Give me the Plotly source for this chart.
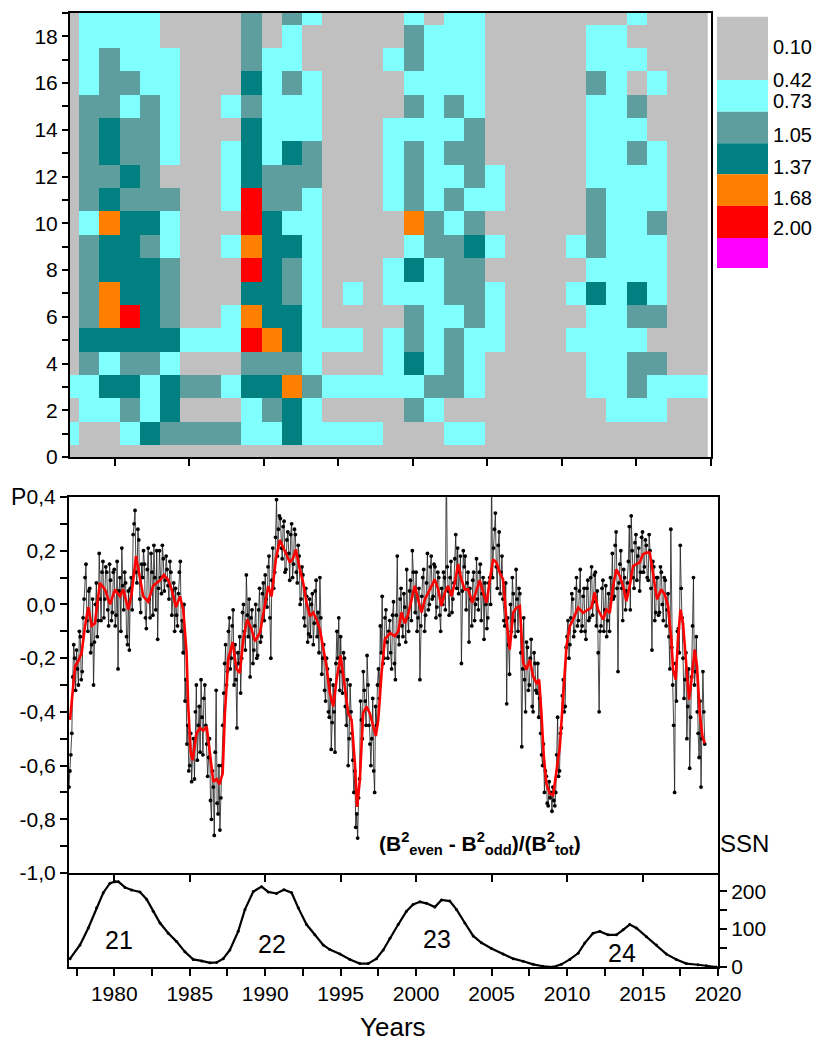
import plotly.graph_objects as go

# ---------------- data ----------------
# heatmap: colour class per cell (0 grey,1 cyan,2 cadet,3 teal,4 orange,5 red,6 magenta); rows from 19 (top) to 0
GRID_ROWS = [
    "01111000020210000101100000001000",  # 19
    "01111000020100000211100000110000",  # 18
    "01211100021100001211100000111000",  # 17
    "01221100031210000111100000210100",  # 16
    "02212100121110000212100000112000",  # 15
    "02322100031110001111200000111000",  # 14
    "02322100131320001212200000112100",  # 13
    "02232000132220001211210000111100",  # 12
    "02322200152210001212110000211100",  # 11
    "01433100053110000421200000211200",  # 10
    "02332100143310000122310001211100",  # 9
    "02333200053210001312200000111100",  # 8
    "02433200033210101112210001313100",  # 7
    "02453200143310000211210000112200",  # 6
    "03333311154311101212110001111000",  # 5
    "02122100022210001312100000112200",  # 4
    "11331322133421111122100000112111",  # 3
    "01121300012310000210000000011100",  # 2
    "10013222211311110001100000000000",  # 1
    "00000000000000000000000000000000",  # 0
]
ROW_LEVELS = list(range(19, -1, -1))
COL_FIRST_EDGE = 1977.604   # left edge of the first full column (years)
COL_WIDTH = 1.361           # years per column
LEVEL_EDGES = [0.10, 0.42, 0.73, 1.05, 1.37, 1.68, 2.00, 2.32]
LEVEL_VALUES = [0.26, 0.575, 0.89, 1.21, 1.525, 1.84, 2.16]
LEVEL_COLORS = ["#C0C0C0", "#80FFFF", "#5F9E9F", "#008080", "#FF8000", "#FF0000", "#FF00FF"]
LEGEND_LABELS = ["0.10", "0.42", "0.73", "1.05", "1.37", "1.68", "2.00"]

# P = (B2even - B2odd)/B2tot, raw series; samples A on a 1/8-year grid from 1977.0,
# samples B half-way between them (1977.0625, ...)
P_START = 1977.0
P_STEP = 0.125
P_RAW_A = [
    -0.68, -0.56, -0.27, -0.20, -0.17, -0.30, -0.12, -0.25,   # 1977
    0.02, 0.15, -0.10, 0.06, -0.15, -0.30, 0.00, -0.12,       # 1978
    0.19, -0.06, 0.16, 0.02, 0.12, -0.08, 0.09, -0.03,        # 1979
    0.13, -0.04, -0.24, 0.10, 0.21, -0.02, 0.08, -0.15,       # 1980
    -0.17, 0.10, 0.26, 0.35, 0.08, 0.24, -0.03, 0.10,         # 1981
    0.15, -0.09, 0.21, -0.05, 0.12, 0.22, -0.02, -0.13,       # 1982
    0.20, 0.04, 0.17, 0.09, 0.13, 0.02, 0.12, 0.05,           # 1983
    -0.10, -0.04, 0.04, 0.16, -0.06, 0.00, -0.28, -0.45,      # 1984
    -0.60, -0.66, -0.50, -0.40, -0.58, -0.38, -0.28, -0.56,   # 1985
    -0.30, -0.52, -0.57, -0.73, -0.62, -0.86, -0.32, -0.78,   # 1986
    -0.84, -0.60, -0.33, -0.15, -0.25, -0.05, -0.20, -0.02,   # 1987
    -0.15, -0.46, -0.22, -0.33, -0.03, -0.10, 0.11, -0.12,    # 1988
    -0.27, -0.02, -0.17, 0.00, -0.19, 0.06, -0.12, 0.08,      # 1989
    0.11, -0.01, 0.18, -0.20, 0.21, 0.12, 0.39, 0.28,         # 1990
    0.32, 0.17, 0.31, 0.13, 0.27, 0.09, 0.30, 0.15,           # 1991
    0.26, 0.08, 0.18, 0.02, 0.11, -0.08, 0.03, -0.11,         # 1992
    -0.12, 0.04, -0.07, 0.09, -0.03, 0.10, -0.26, -0.15,      # 1993
    -0.36, -0.24, -0.42, -0.54, -0.30, -0.55, -0.10, -0.05,   # 1994
    -0.12, -0.33, -0.20, -0.45, -0.60, -0.30, -0.48, -0.70,   # 1995
    -0.83, -0.87, -0.65, -0.43, -0.25, -0.36, -0.19, -0.45,   # 1996
    -0.60, -0.35, -0.70, -0.45, -0.24, -0.08, 0.03, -0.20,    # 1997
    -0.02, -0.20, -0.06, -0.24, 0.01, -0.28, 0.18, -0.15,     # 1998
    0.06, -0.12, -0.01, 0.13, -0.10, 0.09, 0.20, 0.05,        # 1999
    0.12, -0.05, -0.28, 0.03, 0.13, -0.04, 0.19, 0.00,        # 2000
    0.18, 0.03, 0.14, -0.01, 0.10, -0.10, 0.00, 0.10,         # 2001
    0.55, 0.05, 0.10, -0.03, 0.08, 0.26, 0.21, 0.12,          # 2002
    -0.22, 0.20, 0.18, 0.08, -0.14, 0.02, 0.09, -0.06,        # 2003
    0.17, -0.02, 0.15, 0.04, -0.13, 0.00, -0.05, 0.10,        # 2004
    0.48, 0.21, 0.34, 0.06, 0.27, 0.12, 0.02, -0.08,          # 2005
    -0.37, -0.15, 0.00, 0.10, -0.06, 0.13, -0.10, 0.04,       # 2006
    -0.53, -0.05, -0.40, -0.16, -0.30, -0.13, -0.40, -0.22,   # 2007
    -0.33, -0.42, -0.48, -0.60, -0.70, -0.64, -0.75, -0.72,   # 2008
    -0.77, -0.73, -0.70, -0.42, -0.62, -0.46, -0.28, -0.38,   # 2009
    -0.12, -0.20, -0.05, 0.02, -0.10, 0.10, -0.06, 0.13,      # 2010
    -0.08, 0.06, -0.13, 0.09, -0.05, 0.14, 0.01, 0.12,        # 2011
    0.05, -0.40, -0.08, 0.09, -0.02, -0.12, 0.04, 0.10,       # 2012
    0.19, 0.03, 0.27, -0.25, 0.15, 0.06, 0.13, -0.02,         # 2013
    0.08, 0.29, 0.33, 0.10, 0.23, 0.09, 0.21, 0.12,           # 2014
    0.27, 0.14, 0.22, 0.09, 0.20, -0.17, 0.14, -0.03,         # 2015
    0.10, -0.03, 0.12, -0.06, 0.09, -0.02, -0.12, 0.28,       # 2016
    -0.30, -0.70, -0.36, -0.09, 0.22, -0.05, -0.35, -0.18,    # 2017
    -0.38, -0.61, -0.27, 0.10, -0.25, -0.40, -0.57, -0.68,    # 2018
    -0.25, -0.52,                                             # 2019
]
P_RAW_B = [
    -0.62, -0.48, -0.15, -0.32, -0.24, -0.10, -0.28, -0.05,   # 1977
    0.10, -0.06, 0.05, -0.18, 0.02, -0.14, 0.08, -0.06,       # 1978
    0.02, 0.12, -0.05, 0.14, -0.02, 0.15, -0.06, 0.12,        # 1979
    -0.08, 0.16, 0.05, -0.10, 0.07, 0.12, -0.12, 0.05,        # 1980
    0.06, -0.02, 0.30, 0.12, 0.28, 0.02, 0.15, 0.20,          # 1981
    -0.05, 0.13, 0.02, 0.19, -0.04, 0.10, 0.20, 0.06,         # 1982
    0.10, 0.22, 0.05, 0.18, 0.07, 0.16, -0.04, 0.08,          # 1983
    0.06, -0.08, 0.12, -0.10, -0.18, -0.36, -0.52, -0.62,     # 1984
    -0.48, -0.56, -0.65, -0.30, -0.45, -0.55, -0.42, -0.35,   # 1985
    -0.45, -0.64, -0.50, -0.80, -0.68, -0.55, -0.74, -0.60,   # 1986
    -0.72, -0.45, -0.22, -0.30, -0.10, -0.24, -0.08, -0.30,   # 1987
    -0.28, -0.18, -0.12, -0.20, 0.00, -0.17, -0.04, 0.02,     # 1988
    -0.05, -0.22, -0.08, -0.20, -0.02, -0.14, 0.04, -0.06,    # 1989
    0.02, 0.14, -0.05, 0.09, 0.06, 0.25, 0.18, 0.33,          # 1990
    0.21, 0.29, 0.12, 0.24, 0.19, 0.26, 0.10, 0.28,           # 1991
    0.12, 0.22, 0.00, 0.14, -0.05, 0.06, -0.14, 0.02,         # 1992
    0.00, -0.15, 0.05, -0.12, -0.18, -0.05, -0.20, -0.32,     # 1993
    -0.20, -0.40, -0.28, -0.44, -0.40, -0.22, -0.20, -0.32,   # 1994
    -0.25, -0.18, -0.38, -0.28, -0.50, -0.40, -0.58, -0.62,   # 1995
    -0.78, -0.72, -0.36, -0.50, -0.32, -0.45, -0.30, -0.52,   # 1996
    -0.50, -0.62, -0.38, -0.30, -0.35, -0.18, -0.22, -0.05,   # 1997
    -0.14, -0.10, -0.18, -0.04, -0.22, -0.04, -0.12, 0.02,    # 1998
    -0.08, 0.04, -0.14, -0.05, 0.05, -0.06, 0.12, -0.03,      # 1999
    -0.10, 0.06, -0.08, 0.10, -0.10, 0.08, -0.02, 0.14,       # 2000
    0.02, 0.15, -0.05, 0.12, -0.04, 0.06, 0.12, -0.02,        # 2001
    0.14, -0.04, 0.16, 0.02, 0.17, 0.06, 0.04, 0.18,          # 2002
    0.05, 0.14, -0.02, 0.12, 0.06, -0.08, 0.12, 0.00,         # 2003
    0.02, 0.12, -0.06, 0.10, 0.08, -0.09, 0.08, 0.00,         # 2004
    0.10, 0.28, 0.14, 0.22, 0.04, 0.18, -0.06, 0.08,          # 2005
    -0.05, -0.26, -0.10, 0.04, -0.12, 0.02, 0.06, -0.18,      # 2006
    -0.24, -0.28, -0.14, -0.32, -0.20, -0.38, -0.18, -0.32,   # 2007
    -0.22, -0.35, -0.56, -0.52, -0.62, -0.74, -0.66, -0.70,   # 2008
    -0.68, -0.75, -0.56, -0.64, -0.48, -0.34, -0.40, -0.16,   # 2009
    -0.06, -0.15, 0.04, -0.12, 0.06, -0.08, 0.05, -0.10,      # 2010
    0.03, -0.10, 0.06, -0.06, 0.10, -0.04, 0.11, -0.08,       # 2011
    -0.18, -0.10, 0.06, -0.10, 0.07, -0.06, -0.10, 0.02,      # 2012
    0.02, 0.22, 0.06, 0.08, 0.20, -0.06, 0.10, 0.05,          # 2013
    0.16, -0.02, 0.20, 0.06, 0.26, 0.18, 0.05, 0.25,          # 2014
    0.12, 0.24, 0.10, 0.26, 0.06, 0.16, -0.06, 0.10,          # 2015
    -0.04, 0.14, 0.00, 0.10, -0.08, 0.04, -0.24, -0.16,       # 2016
    -0.45, -0.22, -0.10, -0.18, 0.06, -0.20, -0.28, -0.50,    # 2017
    -0.24, -0.42, -0.08, -0.30, -0.12, -0.48, -0.36, -0.50,   # 2018
    -0.40,                                                    # 2019
]

# smoothed P (red curve)
RED_YEARS = [
    1977.07, 1977.40, 1977.62, 1977.84, 1978.06, 1978.28, 1978.50, 1978.72, 1979.05, 1979.38,
    1979.72, 1980.05, 1980.38, 1980.60, 1980.93, 1981.15, 1981.44, 1981.70, 1981.92, 1982.25,
    1982.58, 1982.81, 1983.03, 1983.29, 1983.58, 1983.80, 1984.09, 1984.35, 1984.57, 1984.79,
    1984.90, 1985.06, 1985.19, 1985.45, 1985.68, 1985.90, 1986.12, 1986.34, 1986.56, 1986.78,
    1986.96, 1987.18, 1987.33, 1987.55, 1987.84, 1988.10, 1988.32, 1988.55, 1988.81, 1989.10,
    1989.32, 1989.65, 1989.98, 1990.20, 1990.42, 1990.71, 1990.97, 1991.30, 1991.64, 1991.86,
    1992.03, 1992.30, 1992.52, 1992.74, 1992.96, 1993.18, 1993.40, 1993.62, 1993.84, 1994.06,
    1994.28, 1994.51, 1994.73, 1994.99, 1995.21, 1995.50, 1995.72, 1995.94, 1996.09, 1996.27,
    1996.49, 1996.71, 1996.93, 1997.15, 1997.33, 1997.49, 1997.71, 1997.93, 1998.26, 1998.59,
    1998.81, 1999.03, 1999.25, 1999.47, 1999.69, 1999.91, 2000.13, 2000.36, 2000.58, 2000.80,
    2001.02, 2001.24, 2001.46, 2001.68, 2001.90, 2002.12, 2002.34, 2002.56, 2002.78, 2003.00,
    2003.22, 2003.45, 2003.73, 2004.00, 2004.22, 2004.44, 2004.66, 2004.88, 2005.10, 2005.32,
    2005.54, 2005.76, 2005.98, 2006.20, 2006.43, 2006.65, 2006.87, 2007.09, 2007.31, 2007.53,
    2007.75, 2007.97, 2008.15, 2008.30, 2008.46, 2008.63, 2008.85, 2009.08, 2009.30, 2009.52,
    2009.74, 2009.96, 2010.18, 2010.40, 2010.73, 2011.06, 2011.39, 2011.61, 2011.83, 2012.05,
    2012.39, 2012.61, 2012.83, 2013.05, 2013.27, 2013.49, 2013.71, 2013.93, 2014.15, 2014.37,
    2014.59, 2014.81, 2015.03, 2015.26, 2015.48, 2015.70, 2015.96, 2016.25, 2016.47, 2016.69,
    2016.91, 2017.02, 2017.20, 2017.35, 2017.51, 2017.68, 2017.90, 2018.08, 2018.30, 2018.45,
    2018.61, 2018.79, 2018.97, 2019.12,
]
RED_P = [
    -0.43, -0.23, -0.21, -0.18, -0.08, -0.01, -0.08, -0.07, 0.08, 0.056,
    0.0, 0.056, 0.03, 0.056, -0.02, 0.04, 0.18, 0.09, 0.03, 0.01,
    0.07, 0.08, 0.09, 0.11, 0.09, 0.056, -0.01, 0.03, -0.02, -0.18,
    -0.38, -0.55, -0.58, -0.48, -0.46, -0.47, -0.455, -0.555, -0.66, -0.65,
    -0.67, -0.63, -0.405, -0.205, -0.14, -0.24, -0.255, -0.13, -0.056, -0.093,
    -0.137, -0.106, -0.006, 0.068, 0.03, 0.17, 0.24, 0.20, 0.156, 0.174,
    0.205, 0.13, 0.08, 0.006, -0.044, -0.03, -0.056, -0.093, -0.168, -0.23,
    -0.33, -0.38, -0.28, -0.19, -0.28, -0.405, -0.43, -0.59, -0.754, -0.654,
    -0.405, -0.38, -0.405, -0.455, -0.49, -0.43, -0.255, -0.13, -0.106, -0.118,
    -0.10, -0.03, -0.07, -0.037, 0.019, 0.069, 0.019, -0.03, 0.019, 0.044,
    0.069, 0.093, 0.056, -0.006, 0.044, 0.069, 0.031, 0.081, 0.15, 0.093,
    0.056, 0.056, 0.006, 0.056, 0.09, 0.044, 0.006, 0.09, 0.168, 0.156,
    0.118, 0.093, -0.056, -0.168, -0.031, -0.012, -0.006, -0.218, -0.243, -0.206,
    -0.268, -0.293, -0.28, -0.405, -0.567, -0.667, -0.704, -0.71, -0.617, -0.53,
    -0.343, -0.156, -0.081, -0.056, -0.012, -0.031, -0.019, -0.012, 0.044, -0.019,
    -0.056, -0.019, -0.031, 0.069, 0.131, 0.106, 0.069, 0.012, 0.069, 0.143,
    0.15, 0.156, 0.187, 0.193, 0.193, 0.118, 0.019, 0.056, 0.037, -0.006,
    -0.131, -0.243, -0.28, -0.131, -0.019, -0.069, -0.243, -0.355, -0.255, -0.168,
    -0.23, -0.405, -0.49, -0.517,
]

# sunspot number
SSN_YEARS = [
    1977.07, 1977.73, 1978.28, 1978.83, 1979.27, 1979.72, 1980.05, 1980.27, 1980.71, 1981.15,
    1981.70, 1982.14, 1982.58, 1983.03, 1983.58, 1984.13, 1984.68, 1985.23, 1985.79, 1986.34,
    1986.78, 1987.22, 1987.66, 1988.21, 1988.66, 1989.21, 1989.76, 1990.20, 1990.75, 1991.24,
    1991.75, 1992.19, 1992.74, 1993.29, 1993.84, 1994.28, 1994.95, 1995.61, 1996.27, 1996.82,
    1997.37, 1997.82, 1998.26, 1998.81, 1999.36, 1999.80, 2000.25, 2000.69, 2001.24, 2001.68,
    2002.23, 2002.67, 2003.23, 2003.78, 2004.33, 2004.99, 2005.76, 2006.43, 2007.09, 2007.75,
    2008.41, 2009.07, 2009.63, 2010.18, 2010.73, 2011.17, 2011.72, 2012.17, 2012.72, 2013.27,
    2013.71, 2014.15, 2014.59, 2015.26, 2015.92, 2016.58, 2017.24, 2017.90, 2018.68, 2019.23,
    2019.89,
]
SSN = [
    22, 58, 103, 156, 196, 221, 225, 225, 210, 203,
    198, 179, 147, 116, 89, 67, 40, 20, 16, 11,
    12, 22, 45, 94, 152, 199, 212, 198, 194, 204,
    196, 156, 112, 85, 58, 46, 34, 20, 9, 9,
    22, 45, 76, 112, 147, 165, 172, 168, 158, 177,
    174, 152, 116, 82, 64, 49, 34, 22, 15, 7,
    2, 0, 7, 20, 36, 63, 89, 94, 85, 85,
    98, 112, 103, 80, 58, 34, 20, 9, 6, 3,
    0,
]
CYCLE_LABELS = ["21", "22", "23", "24"]
CYCLE_POS = [(1980.28, 72), (1990.48, 62), (2001.40, 73), (2013.66, 37)]

P_TICKS = [-1.0, -0.8, -0.6, -0.4, -0.2, 0.0, 0.2, 0.4]
P_TICKTEXT = ["-1,0", "-0,8", "-0,6", "-0,4", "-0,2", "0,0", "0,2", "0,4"]

# ---------------- helpers ----------------
W, H = 830, 1041
PAGE_OFFSET = 8          # the html body margin shifts the figure by this many pixels
FONT = "Liberation Sans, Arial, sans-serif"


def X(px):
    return (px - PAGE_OFFSET) / W


def Y(py):
    return 1 - (py - PAGE_OFFSET) / H


ncols = len(GRID_ROWS[0])
col_centers = [COL_FIRST_EDGE + (k - 0.5) * COL_WIDTH for k in range(ncols)]
z = [[LEVEL_VALUES[int(ch)] for ch in row] for row in GRID_ROWS]

zmin, zmax = LEVEL_EDGES[0], LEVEL_EDGES[-1]
colorscale = []
for i, c in enumerate(LEVEL_COLORS):
    a = (LEVEL_EDGES[i] - zmin) / (zmax - zmin)
    b = (LEVEL_EDGES[i + 1] - zmin) / (zmax - zmin)
    colorscale.append([a, c])
    colorscale.append([b, c])

pts = [(P_START + i * P_STEP, v) for i, v in enumerate(P_RAW_A)]
pts += [(P_START + P_STEP / 2 + i * P_STEP, v) for i, v in enumerate(P_RAW_B)]
pts.sort()
p_years = [p[0] for p in pts]
p_vals = [p[1] for p in pts]

fig = go.Figure()
fig.add_trace(go.Heatmap(
    x=col_centers, y=ROW_LEVELS, z=z, zmin=zmin, zmax=zmax,
    colorscale=colorscale, showscale=False, xaxis="x", yaxis="y", hoverinfo="skip",
))
fig.add_trace(go.Scatter(
    x=p_years, y=p_vals, mode="lines+markers",
    line=dict(color="#1a1a1a", width=0.8),
    marker=dict(color="black", size=3.8),
    xaxis="x2", yaxis="y2", showlegend=False,
))
fig.add_trace(go.Scatter(
    x=RED_YEARS, y=RED_P, mode="lines",
    line=dict(color="#FF0000", width=2.6),
    xaxis="x2", yaxis="y2", showlegend=False,
))
fig.add_trace(go.Scatter(
    x=SSN_YEARS, y=SSN, mode="lines+markers",
    line=dict(color="black", width=2.2),
    marker=dict(color="black", size=3),
    xaxis="x3", yaxis="y3", showlegend=False,
))

axis_common = dict(showline=True, linecolor="black", linewidth=2, mirror=True,
                   showgrid=False, zeroline=False, ticks="outside", ticklen=7,
                   tickwidth=1.5, tickcolor="black", automargin=False,
                   tickfont=dict(family=FONT, size=21, color="black"))

years5 = list(range(1980, 2021, 5))

fig.update_layout(
    template="none",
    width=W, height=H, autosize=False,
    margin=dict(l=0, r=0, t=0, b=0, pad=0),
    paper_bgcolor="white", plot_bgcolor="white",
    font=dict(family=FONT, color="black"),
    showlegend=False,
    xaxis=dict(axis_common, domain=[X(70), X(711)], range=[1977, 2020], anchor="y",
               tickvals=years5, showticklabels=False),
    yaxis=dict(axis_common, domain=[Y(457), Y(13)], range=[0, 19], anchor="x",
               tickvals=list(range(0, 19, 2)), ticklen=6,
               minor=dict(tickvals=list(range(1, 20, 2)), ticks="outside", ticklen=6,
                          tickcolor="black", tickwidth=1.5)),
    xaxis2=dict(axis_common, domain=[X(69), X(718)], range=[1977, 2020], anchor="y2",
                tickvals=years5[:-1], showticklabels=False),
    yaxis2=dict(axis_common, domain=[Y(873), Y(497)], range=[-1.0, 0.4], anchor="x2",
                tickvals=P_TICKS, ticktext=P_TICKTEXT,
                minor=dict(tickvals=[-0.9, -0.7, -0.5, -0.3, -0.1, 0.1, 0.3],
                           ticks="outside", ticklen=7, tickcolor="black", tickwidth=1.5)),
    xaxis3=dict(axis_common, domain=[X(69), X(718)], range=[1977, 2020], anchor="y3",
                mirror=False,
                tickvals=years5, ticktext=[str(y) for y in years5],
                minor=dict(tickvals=[1977.5 + 5 * k for k in range(9)], ticks="outside",
                           ticklen=7, tickcolor="black", tickwidth=1.5)),
    yaxis3=dict(axis_common, domain=[Y(967), Y(873)], range=[0, 248], anchor="x3",
                side="right", tickvals=[0, 100, 200],
                minor=dict(tickvals=[50, 150], ticks="outside", ticklen=7,
                           tickcolor="black", tickwidth=1.5)),
)

shapes = []
annotations = []
# colour legend of the heatmap
LEG_Y = [16.7, 80, 111.7, 143.3, 174.3, 206, 238, 268]
LEG_LABEL_Y = [46.7, 80.5, 101, 135, 167, 198, 228]
for i, c in enumerate(LEVEL_COLORS):
    shapes.append(dict(type="rect", xref="paper", yref="paper",
                       x0=X(717), x1=X(768), y0=Y(LEG_Y[i + 1]), y1=Y(LEG_Y[i]),
                       fillcolor=c, line=dict(width=0), layer="above"))
for lab, py in zip(LEGEND_LABELS, LEG_LABEL_Y):
    annotations.append(dict(text=lab, xref="paper", yref="paper", x=X(771), y=Y(py),
                            xanchor="left", yanchor="middle", showarrow=False,
                            font=dict(family=FONT, size=20, color="black")))

# cycle numbers
for lab, (cx, cy) in zip(CYCLE_LABELS, CYCLE_POS):
    annotations.append(dict(text=lab, xref="x3", yref="y3", x=cx, y=cy,
                            xanchor="center", yanchor="middle", showarrow=False,
                            font=dict(family=FONT, size=25, color="black")))

annotations += [
    dict(text="P", xref="paper", yref="paper", x=X(18), y=Y(497), xanchor="center",
         yanchor="middle", showarrow=False, font=dict(family=FONT, size=23, color="black")),
    dict(text="SSN", xref="paper", yref="paper", x=X(744), y=Y(843), xanchor="center",
         yanchor="middle", showarrow=False, font=dict(family=FONT, size=24, color="black")),
    dict(text="Years", xref="paper", yref="paper", x=X(393), y=Y(1027), xanchor="center",
         yanchor="middle", showarrow=False, font=dict(family=FONT, size=26, color="black")),
    dict(text="<b>(B<sup>2</sup><sub>even</sub> - B<sup>2</sup><sub>odd</sub>)/(B<sup>2</sup><sub>tot</sub>)</b>",
         xref="paper", yref="paper", x=X(377), y=Y(843), xanchor="left", yanchor="middle",
         showarrow=False, font=dict(family=FONT, size=21, color="black")),
]
fig.update_layout(shapes=shapes, annotations=annotations)

fig.write_html("out.html")
